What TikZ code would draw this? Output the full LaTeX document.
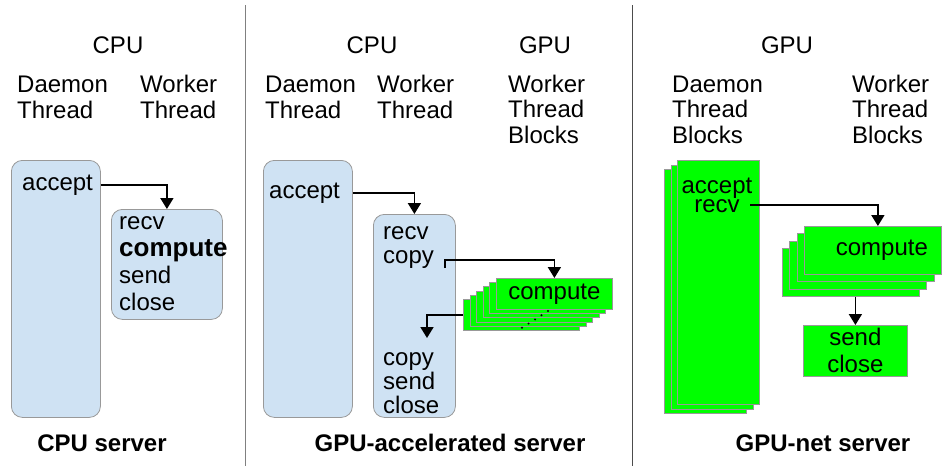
\documentclass[tikz,border=0pt]{standalone}
\usepackage{fontspec}
\setmainfont{Liberation Sans}
\usepackage{xcolor}
\usetikzlibrary{positioning, arrows.meta, calc}
\definecolor{cpublue}{HTML}{CFE2F3}
\definecolor{gpugreen}{HTML}{00FF00}
\definecolor{edgegray}{HTML}{999999}

\begin{document}
\begin{tikzpicture}[
        x=1pt, y=-1pt,
        >={Triangle[length=11pt, width=13pt]},
        every node/.style={font=\fontsize{24}{25.5}\selectfont, inner sep=0pt},
        cpubox/.style={draw=edgegray, fill=cpublue, rectangle, rounded corners=11pt, line width=0.8pt, anchor=north west},
        gpubox/.style={draw=edgegray, fill=gpugreen, rectangle, line width=0.8pt, anchor=north west},
        lbl/.style={align=left, anchor=base west},
        head/.style={anchor=base},
        title/.style={font=\fontsize{24}{26}\selectfont\bfseries, anchor=base},
        flow/.style={->, line width=1.8pt}
    ]
        \useasboundingbox (0,0) rectangle (943,466);

        % Dividers
        \draw [gray, line width=1pt] (245,5) -- (245,466);
        \draw [black!70, line width=1pt] (632,5) -- (632,466);

        % Headers (base = last line)
        \node (cpu1) [head] at (118,53) {CPU};
        \node (dmnh1) [lbl] at (17,118) {Daemon\\Thread};
        \node (wrkh1) [lbl] at (140,118) {Worker\\Thread};
        \node (cpu2) [head] at (372,53) {CPU};
        \node (gpu2) [head] at (545,53) {GPU};
        \node (dmnh2) [lbl] at (265,118) {Daemon\\Thread};
        \node (wrkh2) [lbl] at (377,118) {Worker\\Thread};
        \node (blkh2) [lbl] at (508,143) {Worker\\Thread\\Blocks};
        \node (gpu3) [head] at (787,53) {GPU};
        \node (dmnh3) [lbl] at (672,143) {Daemon\\Thread\\Blocks};
        \node (wrkh3) [lbl] at (852,143) {Worker\\Thread\\Blocks};

        % CPU server
        \node (dmn1) [cpubox, minimum width=89pt, minimum height=257pt] at (11,160) {};
        \node (wrk1) [cpubox, minimum width=111pt, minimum height=110pt] at (111,209) {};
        \node (acc1) [lbl] at (22,190) {accept};
        \node (wtx1) [lbl, font=\fontsize{24}{27}\selectfont] at (119,310) {recv\\{\fontsize{26}{27}\selectfont\bfseries compute}\\send\\close};

        % GPU-accelerated server
        \node (dmn2) [cpubox, minimum width=89pt, minimum height=257pt] at (263,160) {};
        \node (wrk2) [cpubox, minimum width=82pt, minimum height=203pt] at (373,214) {};
        \node (acc2) [lbl] at (269,198) {accept};
        \node (wtx2) [lbl, font=\fontsize{24}{24}\selectfont] at (383,263) {recv\\copy};
        \node (wtx2b) [lbl, font=\fontsize{24}{24}\selectfont] at (383,413) {copy\\send\\close};
        \foreach \i in {5,4,...,1}
            \node (gcmp\i) [gpubox, minimum width=116pt, minimum height=31pt] at ({496-6.6*\i},{278+4.2*\i}) {};
        \node (gcmp) [gpubox, minimum width=116pt, minimum height=31pt] at (496,278) {compute};
        \foreach \i in {0,...,4}
            \fill ({548-6.5*\i},{311+4.2*\i}) circle (1.1pt);

        % GPU-net server
        \foreach \i in {2,1}
            \node (dmn3\i) [gpubox, minimum width=82pt, minimum height=244pt] at ({677-6.5*\i},{160+4.5*\i}) {};
        \node (dmn3) [gpubox, minimum width=82pt, minimum height=244pt] at (677,160) {};
        \node (acc3) [head, align=center, font=\fontsize{24}{19}\selectfont] at (717,212) {accept\\recv};
        \foreach \i in {3,2,1}
            \node (gnc\i) [gpubox, minimum width=137pt, minimum height=48pt] at ({804-7.3*\i},{226+7.3*\i}) {};
        \node (gnc) [gpubox, minimum width=137pt, minimum height=48pt] at (804,226) {\hspace*{18pt}compute};
        \node (snd) [gpubox, minimum width=104pt, minimum height=51pt, align=center, font=\fontsize{24}{27}\selectfont] at (803,325) {send\\close};

        % Titles
        \node (ttl1) [title] at (102,451) {CPU server};
        \node (ttl2) [title] at (450,451) {GPU-accelerated server};
        \node (ttl3) [title] at (823,451) {GPU-net server};

        % Arrows
        \coordinate (rcvout) at (750,205);
        \coordinate (cpyout) at (445,268);
        \coordinate (cpyin) at (427,338);
        \draw [flow] (acc1.east -| dmn1.east) -| (wrk1.north);
        \draw [flow] (acc2.east -| dmn2.east) -| (wrk2.north);
        \draw [flow] (cpyout) -- ++(0,-8) -| (gcmp.north);
        \draw [flow] (gcmp5.west) -| (cpyin);
        \draw [flow] (rcvout) -| ([xshift=5pt]gnc.north);
        \draw [flow] (gnc3.south -| snd.north) -- (snd.north);
    \end{tikzpicture}
\end{document}
